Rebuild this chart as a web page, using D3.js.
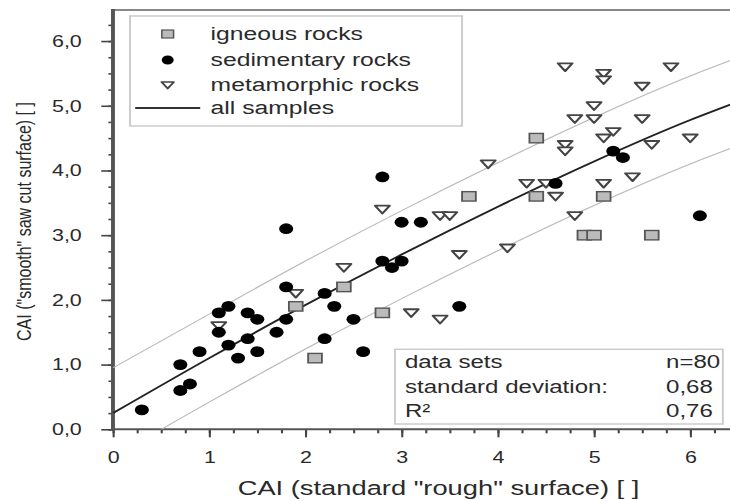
<!DOCTYPE html>
<html>
<head>
<meta charset="utf-8">
<title>CAI scatter</title>
<script src="https://d3js.org/d3.v7.min.js"></script>
<style>
  body { margin: 0; background: #fff; }
  svg { display: block; }
  text { font-family: "Liberation Sans", Arial, sans-serif; fill: #2a2a2a; }
</style>
</head>
<body>
<svg id="chart" width="730" height="501" viewBox="0 0 561.5 501" preserveAspectRatio="none"></svg>
<script>
// data  [CAI rough, CAI smooth]
let igneous = [[1.9,1.9],[2.1,1.1],[2.4,2.2],[2.8,1.8],[3.7,3.6],[4.4,4.5],[4.4,3.6],
               [4.9,3.0],[5.0,3.0],[5.1,3.6],[5.6,3.0]];
let sedimentary = [[0.3,0.3],[0.7,0.6],[0.7,1.0],[0.8,0.7],[0.9,1.2],[1.1,1.5],[1.1,1.8],
                   [1.2,1.9],[1.2,1.3],[1.3,1.1],[1.4,1.8],[1.4,1.4],[1.5,1.7],[1.5,1.2],
                   [1.7,1.5],[1.8,1.7],[1.8,2.2],[1.8,3.1],[2.2,2.1],[2.2,1.4],[2.3,1.9],
                   [2.5,1.7],[2.6,1.2],[2.8,3.9],[2.8,2.6],[2.9,2.5],[3.0,2.6],[3.0,3.2],
                   [3.2,3.2],[3.6,1.9],[4.6,3.8],[5.2,4.3],[5.3,4.2],[6.1,3.3]];
let metamorphic = [[1.1,1.6],[1.9,2.1],[2.4,2.5],[3.1,1.8],[2.8,3.4],[3.4,1.7],[3.4,3.3],
                   [3.5,3.3],[3.6,2.7],[3.9,4.1],[4.1,2.8],[4.3,3.8],[4.5,3.8],[4.6,3.6],
                   [4.7,5.6],[4.7,4.4],[4.7,4.3],[4.8,4.8],[4.8,3.3],[5.0,5.0],[5.0,4.8],
                   [5.1,5.5],[5.1,5.4],[5.1,4.5],[5.1,3.8],[5.2,4.6],[5.4,3.9],[5.5,5.3],
                   [5.5,4.8],[5.6,4.4],[5.8,5.6],[6.0,4.5]];
// fitted curve and +/- standard deviation band
let fitX   = [0, 1, 2, 3, 4, 5, 6, 6.42];
let fitY   = [0.25, 1.10, 1.92, 2.70, 3.44, 4.14, 4.78, 5.02];
let upperY = [0.95, 1.78, 2.60, 3.38, 4.12, 4.82, 5.46, 5.70];
let lowerY = [-0.43, 0.42, 1.24, 2.02, 2.76, 3.46, 4.10, 4.34];
let xTicks = [0, 1, 2, 3, 4, 5, 6];
let yTicks = [0, 1, 2, 3, 4, 5, 6];
let legendLabels = ["igneous rocks", "sedimentary rocks", "metamorphic rocks", "all samples"];
let statLabels = ["data sets", "standard deviation:", "R\u00b2"];
let statValues = ["n=80", "0,68", "0,76"];

let svg = d3.select("#chart");
let pLeft = 86.9, pRight = 562, pTop = 10, pBottom = 429.3;

let x = d3.scaleLinear().domain([0, 6.42]).range([pLeft, pRight]);
let y = d3.scaleLinear().domain([0, 6.48]).range([pBottom, pTop]);
let fmt = d3.formatLocale({decimal: ",", thousands: ".", grouping: [3], currency: ["", ""]}).format(".1f");

svg.append("clipPath").attr("id", "plot")
  .append("rect").attr("x", pLeft).attr("y", pTop).attr("width", pRight - pLeft).attr("height", pBottom - pTop);

// minor ticks
let minorX = d3.range(0, 6.42, 0.25), minorY = d3.range(0, 6.5, 0.25);
svg.append("g").attr("transform", "translate(0," + pBottom + ")")
  .call(d3.axisBottom(x).tickValues(minorX).tickSize(4).tickFormat(""))
  .call(g => g.select(".domain").remove());
svg.append("g").attr("transform", "translate(" + pLeft + ",0)")
  .call(d3.axisLeft(y).tickValues(minorY).tickSize(3.5).tickFormat(""))
  .call(g => g.select(".domain").remove());

// major ticks with labels
let xa = svg.append("g").attr("transform", "translate(0," + pBottom + ")")
  .call(d3.axisBottom(x).tickValues(xTicks).tickSize(8).tickPadding(14).tickFormat(d3.format("d")));
xa.select(".domain").remove();
xa.selectAll("text").style("font-size", "16.5px").attr("fill", "#333");
let ya = svg.append("g").attr("transform", "translate(" + pLeft + ",0)")
  .call(d3.axisLeft(y).tickValues(yTicks).tickSize(9).tickPadding(15).tickFormat(fmt));
ya.select(".domain").remove();
ya.selectAll("text").style("font-size", "16.5px").attr("fill", "#333");
svg.selectAll(".tick line").attr("stroke", "#444").attr("stroke-width", 1.6);

// frame
svg.append("line").attr("x1", pLeft).attr("x2", pRight).attr("y1", pBottom).attr("y2", pBottom)
  .attr("stroke", "#555").attr("stroke-width", 2);
svg.append("line").attr("x1", pLeft).attr("x2", pRight).attr("y1", pTop).attr("y2", pTop)
  .attr("stroke", "#888").attr("stroke-width", 2);
svg.append("line").attr("x1", pLeft).attr("x2", pLeft).attr("y1", pTop - 1).attr("y2", pBottom + 1)
  .attr("stroke", "#555").attr("stroke-width", 3);

// curves
let plotG = svg.append("g").attr("clip-path", "url(#plot)");
function curve(ys) {
  return d3.line().x((d, i) => x(fitX[i])).y(d => y(d)).curve(d3.curveMonotoneX)(ys);
}
plotG.append("path").attr("d", curve(upperY)).attr("fill", "none").attr("stroke", "#bbb").attr("stroke-width", 1.1);
plotG.append("path").attr("d", curve(lowerY)).attr("fill", "none").attr("stroke", "#bbb").attr("stroke-width", 1.1);
plotG.append("path").attr("d", curve(fitY)).attr("fill", "none").attr("stroke", "#222").attr("stroke-width", 1.8);

// symbols
function square(g) {
  g.append("rect").attr("x", -5.3).attr("y", -4.7).attr("width", 10.6).attr("height", 9.4)
    .attr("fill", "#bbb").attr("stroke", "#555").attr("stroke-width", 1.4);
}
function dot(g) {
  g.append("circle").attr("r", 5.4).attr("fill", "#000");
}
function tri(g) {
  g.append("path").attr("d", "M-5.6,-3.6L5.6,-3.6L0,4.2Z")
    .attr("fill", "#fff").attr("stroke", "#444").attr("stroke-width", 1.8).attr("stroke-linejoin", "round");
}
function draw(data, shape) {
  plotG.selectAll(null).data(data).join("g")
    .attr("transform", d => "translate(" + x(d[0]) + "," + y(d[1]) + ")")
    .each(function() { shape(d3.select(this)); });
}
draw(metamorphic, tri);
draw(igneous, square);
draw(sedimentary, dot);

// legend
let lg = svg.append("g");
lg.append("rect").attr("x", 100).attr("y", 16).attr("width", 255.4).attr("height", 110)
  .attr("fill", "#fff").attr("stroke", "#ccc").attr("stroke-width", 1.5);
let rowY = [34, 60, 85, 108];
[square, dot, tri].forEach(function(s, i) {
  let g = lg.append("g").attr("transform", "translate(129," + rowY[i] + ") scale(0.85)");
  s(g);
});
lg.append("line").attr("x1", 104).attr("x2", 154).attr("y1", rowY[3]).attr("y2", rowY[3])
  .attr("stroke", "#333").attr("stroke-width", 1.8);
lg.selectAll("text.lab").data(legendLabels).join("text").attr("class", "lab")
  .attr("x", 162).attr("y", (d, i) => rowY[i] + 6.5)
  .style("font-size", "19px").text(d => d);

// statistics box
let sg = svg.append("g");
sg.append("rect").attr("x", 303.8).attr("y", 349.3).attr("width", 252.2).attr("height", 74.7)
  .attr("fill", "#fff").attr("stroke", "#ccc").attr("stroke-width", 1.5);
let statY = [368.3, 393.3, 416.7];
sg.selectAll("text.sl").data(statLabels).join("text").attr("class", "sl")
  .attr("x", 311.5).attr("y", (d, i) => statY[i]).style("font-size", "18.5px").text(d => d);
sg.selectAll("text.sv").data(statValues).join("text").attr("class", "sv")
  .attr("x", 512.3).attr("y", (d, i) => statY[i]).style("font-size", "18.5px").text(d => d);

// axis titles
svg.append("text").attr("x", 337.3).attr("y", 495).attr("text-anchor", "middle")
  .style("font-size", "21px").text("CAI (standard \"rough\" surface) [ ]");
svg.append("text").attr("transform", "translate(24,221.5) rotate(-90)").attr("text-anchor", "middle")
  .style("font-size", "16px").text("CAI (\"smooth\" saw cut surface) [ ]");
</script>
</body>
</html>
